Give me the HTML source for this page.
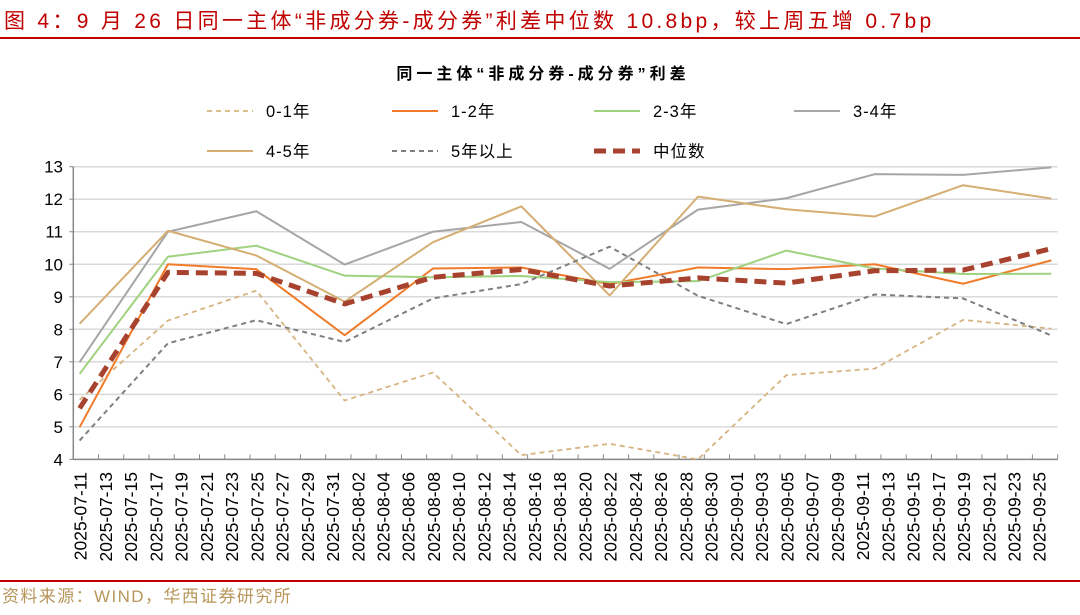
<!DOCTYPE html>
<html><head><meta charset="utf-8"><style>
body{margin:0;background:#fff;width:1080px;height:615px;overflow:hidden;font-family:"Liberation Sans","Noto Sans CJK SC",sans-serif}
svg{display:block}
</style></head><body>
<svg id="c" width="1080" height="615">
<text x="4" y="28" font-size="21" fill="#c00000" letter-spacing="3.3">图 4：9 月 26 日同一主体“非成分券-成分券”利差中位数 10.8bp，较上周五增 0.7bp</text>
<rect x="0" y="37" width="1080" height="2" fill="#c00000"/>
<text x="543" y="79" font-size="16" font-weight="bold" text-anchor="middle" fill="#000" letter-spacing="4">同一主体“非成分券-成分券”利差</text>
<g id="grid"></g><g id="axes"></g><g id="series"></g><g id="legend"></g>
<rect x="0" y="580" width="1080" height="2" fill="#c00000"/>
<text x="2" y="602" font-size="17" fill="#b8965a" letter-spacing="1.4">资料来源：WIND，华西证券研究所</text>
</svg>
<script>
const yTicks=[4,5,6,7,8,9,10,11,12,13];
const dates=["07-11","07-18","07-25","08-01","08-08","08-15","08-22","08-29","09-05","09-12","09-19","09-26"];
const s01=[5.83,8.27,9.19,5.81,6.67,4.13,4.48,4.0,6.59,6.79,8.29,8.02];
const s12=[4.99,10.0,9.85,7.82,9.87,9.9,9.39,9.9,9.85,10.0,9.4,10.12];
const s23=[6.63,10.23,10.57,9.65,9.6,9.64,9.45,9.48,10.42,9.87,9.7,9.71];
const s34=[6.99,11.0,11.63,9.99,11.0,11.3,9.86,11.68,12.03,12.77,12.75,12.98];
const s45=[8.17,11.03,10.27,8.85,10.68,11.78,9.04,12.08,11.69,11.47,12.43,12.02];
const s5p=[4.58,7.57,8.28,7.61,8.95,9.39,10.54,9.03,8.16,9.07,8.95,7.81];
const sMed=[5.57,9.75,9.72,8.78,9.6,9.84,9.33,9.58,9.42,9.8,9.82,10.48];
const NS="http://www.w3.org/2000/svg";
const X0=73.3,DAY=12.62,Y13=166.7,UNIT=32.52;
const start=new Date(2025,6,11);
function dayIdx(md){const [m,d]=md.split("-").map(Number);return Math.round((new Date(2025,m-1,d)-start)/864e5);}
function xd(i){return X0+(i+0.5)*DAY;}
function y(v){return Y13+(13-v)*UNIT;}
function mk(t,a,p){const e=document.createElementNS(NS,t);for(const k in a)e.setAttribute(k,a[k]);p.appendChild(e);return e;}
const grid=document.getElementById('grid'),axes=document.getElementById('axes'),ser=document.getElementById('series'),leg=document.getElementById('legend');
const XEND=X0+78*DAY;
yTicks.forEach(v=>{
 const l=mk('line',{x1:X0,x2:XEND,y1:y(v),y2:y(v),stroke:'#d9d9d9','stroke-width':1.5},grid);
 
 
 const t=mk('text',{x:63,y:y(v)+6,'font-size':17,'text-anchor':'end',fill:'#000'},axes);t.textContent=v;
 
 
 mk('line',{x1:X0-4,x2:X0,y1:y(v),y2:y(v),stroke:'#888'},axes);
});
mk('line',{x1:X0,x2:X0,y1:y(13),y2:y(4),stroke:'#888','stroke-width':1.5},axes);
const xa=mk('line',{x1:X0,x2:XEND,y1:y(4),y2:y(4),stroke:'#888','stroke-width':1.5},axes);


for(let i=0;i<=78;i+=2){
 const xx=X0+i*DAY;
 mk('line',{x1:xx,x2:xx,y1:y(4),y2:y(4)-5,stroke:'#888'},axes);
 if(i<78){
  const d=new Date(start.getTime()+i*864e5);
  const lab="2025-"+String(d.getMonth()+1).padStart(2,'0')+"-"+String(d.getDate()).padStart(2,'0');
  const cx=xd(i)+7;
  const t=mk('text',{x:cx,y:472,'font-size':17.5,'text-anchor':'end',fill:'#000',transform:`rotate(-90 ${cx} 472)`},axes);
  t.textContent=lab;
  
  
 }
}
const defs=[
 [s01,'0-1年','#d6b47f',1.8,'5,4','series-0-1y'],
 [s12,'1-2年','#f07b2a',2,'','series-1-2y'],
 [s23,'2-3年','#9fd27f',2,'','series-2-3y'],
 [s34,'3-4年','#a6a6a6',2,'','series-3-4y'],
 [s45,'4-5年','#d4ae72',2,'','series-4-5y'],
 [s5p,'5年以上','#7f7f7f',2,'5,4','series-5y-plus'],
 [sMed,'中位数','#a7422f',5,'12,7','series-median']];
defs.forEach(([arr,name,col,w,da,id])=>{
 const pts=arr.map((v,i)=>xd(dayIdx(dates[i]))+','+y(v)).join(' ');
 const p=mk('polyline',{points:pts,fill:'none',stroke:col,'stroke-width':w,'stroke-dasharray':da,'stroke-linejoin':'round'},ser);
 
 
});
const lpos=[[203,111],[388,111],[590,111],[790,111],[203,151],[388,151],[590,151]];
defs.forEach(([arr,name,col,w,da,id],k)=>{
 const [lx,ly]=lpos[k];
 const g=mk('g',{},leg);
 
 
 mk('line',{x1:lx+4,x2:lx+50,y1:ly,y2:ly,stroke:col,'stroke-width':w,'stroke-dasharray':da},g);
 const t=mk('text',{x:lx+63,y:ly+6,'font-size':16.5,fill:'#000','letter-spacing':1},g);t.textContent=name;
});
</script>
</body></html>
